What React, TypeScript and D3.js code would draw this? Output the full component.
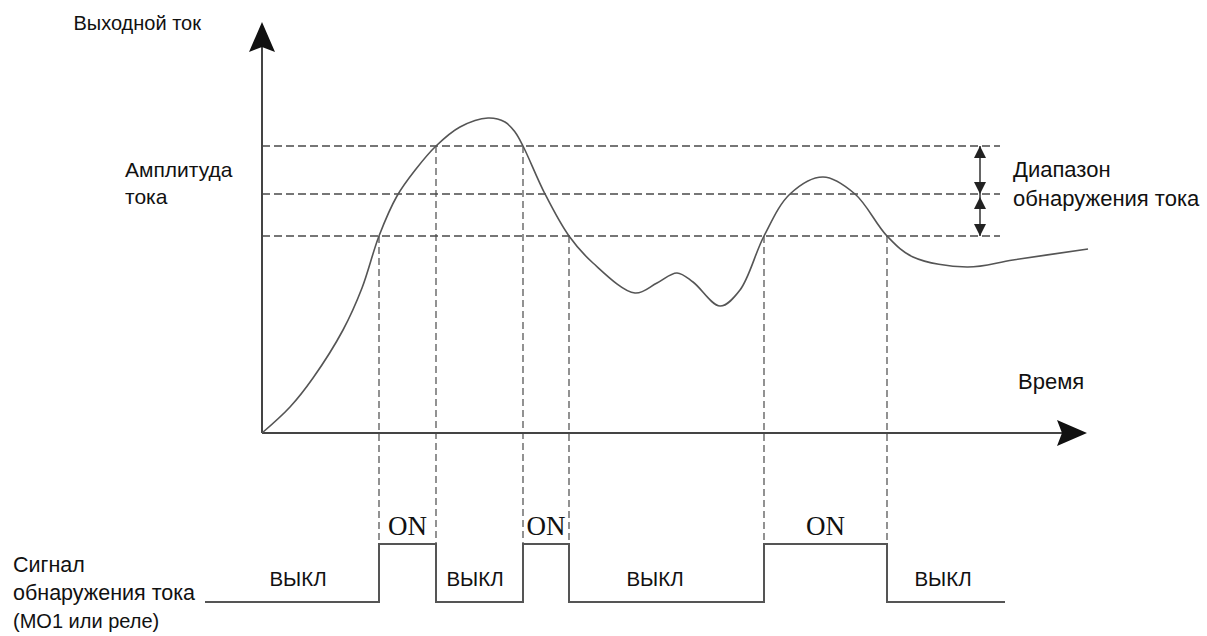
import React from "react";
import * as d3 from "d3";

// Output current curve (time units, current units)
const curveTime = [0, 28, 51, 81, 100, 117, 135, 154, 174, 198, 226, 243, 253, 261, 283, 307, 331, 373, 395, 415, 431, 458, 478, 502, 528, 561, 593, 625, 651, 705, 751, 826];
const curveCurrent = [0, 26, 55, 103, 145, 197, 237, 264, 287, 306, 315, 311, 301, 287, 239, 197, 170, 140, 150, 160, 151, 127, 143, 197, 239, 256, 239, 197, 176, 166, 173, 184];

// Detection levels (current units)
const levels = [197, 239, 287];
// Crossing points dropped down to the signal
const crossTime = [117, 174, 261, 307, 502, 625];
const crossLevel = [197, 287, 287, 197, 197, 197];
// Detection signal
const onStart = [117, 261, 502];
const onEnd = [174, 307, 625];
const signalStart = -57;
const signalEnd = 743;
const offLabelTime = [36, 213, 393, 681];
const rangeArrowTime = 718;
const levelLineEnd = 738;

const W = 1207;
const H = 636;
const SANS = "'Liberation Sans', Arial, sans-serif";
const SERIF = "'Liberation Serif', 'Times New Roman', serif";

export default function App() {
  const x = d3.scaleLinear().domain([0, 825]).range([262, 1087]);
  const y = d3.scaleLinear().domain([0, 411]).range([433, 22]);
  const sy = d3.scaleLinear().domain([0, 1]).range([602, 544]);

  const pts: [number, number][] = curveTime.map((t, i) => [t, curveCurrent[i]]);
  const curvePath = d3
    .line<[number, number]>()
    .x((d) => x(d[0]))
    .y((d) => y(d[1]))
    .curve(d3.curveCatmullRom.alpha(0.5))(pts) as string;

  // signal steps
  const sig: [number, number][] = [[signalStart, 0]];
  onStart.forEach((s, i) => {
    sig.push([s, 0], [s, 1], [onEnd[i], 1], [onEnd[i], 0]);
  });
  sig.push([signalEnd, 0]);
  const sigPath = d3
    .line<[number, number]>()
    .x((d) => x(d[0]))
    .y((d) => sy(d[1]))(sig) as string;

  const x0 = x(0);
  const y0 = y(0);
  const yTop = y(411);
  const xEnd = x(825);

  const ax = x(rangeArrowTime);
  const arrowHead = (tipY: number, dir: number) =>
    `M${ax},${tipY} L${ax + 6},${tipY + dir * 12} L${ax - 6},${tipY + dir * 12} Z`;

  const stroke = "#444";

  return (
    <svg
      width={W}
      height={H}
      style={{ position: "absolute", left: 0, top: 0, background: "#fff" }}
    >
      <rect width={W} height={H} fill="#fff" />
      {/* horizontal dashed level lines */}
      {levels.map((l, i) => (
        <line
          key={"lv" + i}
          x1={x0}
          x2={x(levelLineEnd)}
          y1={y(l)}
          y2={y(l)}
          stroke="#4a4a4a"
          strokeWidth={1.3}
          strokeDasharray="8,4"
        />
      ))}
      {/* vertical dashed drop lines */}
      {crossTime.map((t, i) => (
        <line
          key={"vd" + i}
          x1={x(t)}
          x2={x(t)}
          y1={y(crossLevel[i])}
          y2={sy(1)}
          stroke="#4a4a4a"
          strokeWidth={1.2}
          strokeDasharray="7,4"
        />
      ))}
      {/* axes */}
      <line x1={x0} x2={x0} y1={y0} y2={yTop + 20} stroke={stroke} strokeWidth={2} />
      <line x1={x0} x2={xEnd - 20} y1={y0} y2={y0} stroke={stroke} strokeWidth={2} />
      <path
        d={`M${x0},${yTop} L${x0 + 13},${yTop + 30} L${x0},${yTop + 25} L${x0 - 13},${yTop + 30} Z`}
        fill="#111"
      />
      <path
        d={`M${xEnd},${y0} L${xEnd - 30},${y0 - 13} L${xEnd - 25},${y0} L${xEnd - 30},${y0 + 13} Z`}
        fill="#111"
      />
      {/* current curve */}
      <path d={curvePath} fill="none" stroke="#555" strokeWidth={1.6} />
      {/* range double arrows */}
      <line x1={ax} x2={ax} y1={y(levels[2])} y2={y(levels[0])} stroke="#333" strokeWidth={1.5} />
      {path2(arrowHead(y(levels[2]), 1))}
      {path2(arrowHead(y(levels[1]), -1))}
      {path2(arrowHead(y(levels[1]) + 3, 1))}
      {path2(arrowHead(y(levels[0]), -1))}
      {/* signal */}
      <path d={sigPath} fill="none" stroke="#555" strokeWidth={2} />
      {/* texts */}
      <g fontFamily={SANS} fill="#111">
        <text x={201} y={30} fontSize={20} textAnchor="end">Выходной ток</text>
        <text x={125} y={177} fontSize={21}>Амплитуда</text>
        <text x={125} y={204} fontSize={21}>тока</text>
        <text x={1013} y={177} fontSize={22}>Диапазон</text>
        <text x={1013} y={206} fontSize={22}>обнаружения тока</text>
        <text x={1018} y={389} fontSize={22}>Время</text>
        <text x={13} y={572} fontSize={21.5}>Сигнал</text>
        <text x={13} y={600} fontSize={21.5}>обнаружения тока</text>
        <text x={13} y={628} fontSize={20}>(МО1 или реле)</text>
        {offLabelTime.map((t, i) => (
          <text key={"off" + i} x={x(t)} y={586} fontSize={20.5} textAnchor="middle">
            ВЫКЛ
          </text>
        ))}
      </g>
      <g fontFamily={SERIF} fill="#111">
        {onStart.map((s, i) => (
          <text key={"on" + i} x={x((s + onEnd[i]) / 2)} y={535} fontSize={27} textAnchor="middle">
            ON
          </text>
        ))}
      </g>
    </svg>
  );
}

function path2(d: string) {
  return <path d={d} fill="#222" />;
}
